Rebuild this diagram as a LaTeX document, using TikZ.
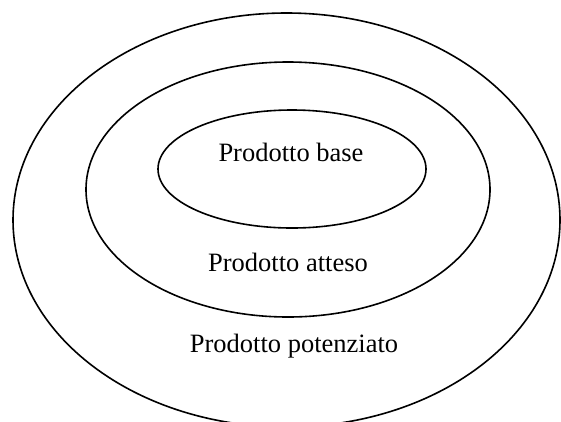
\documentclass[tikz,border=0pt]{standalone}
\usepackage{fontspec}
\setmainfont{Liberation Serif}
\begin{document}
\begin{tikzpicture}[x=1pt,y=-1pt,
  ring/.style={draw=black,line width=1.6pt},
  label/.style={anchor=base,inner sep=0pt,font=\fontsize{26.5}{30}\selectfont}]
\useasboundingbox (0,0) rectangle (561,421);
\clip (0,0) rectangle (561,421);
% nested product levels
\draw[ring] (286.5,220) ellipse [x radius=273.5, y radius=207];
\draw[ring] (288,189.5) ellipse [x radius=202, y radius=127.5];
\draw[ring] (292,169) ellipse [x radius=134, y radius=59];
\node[label] (base) at (291,161.5) {Prodotto base};
\node[label] (atteso) at (288,271.5) {Prodotto atteso};
\node[label] (potenziato) at (294,352) {Prodotto potenziato};
\end{tikzpicture}
\end{document}
